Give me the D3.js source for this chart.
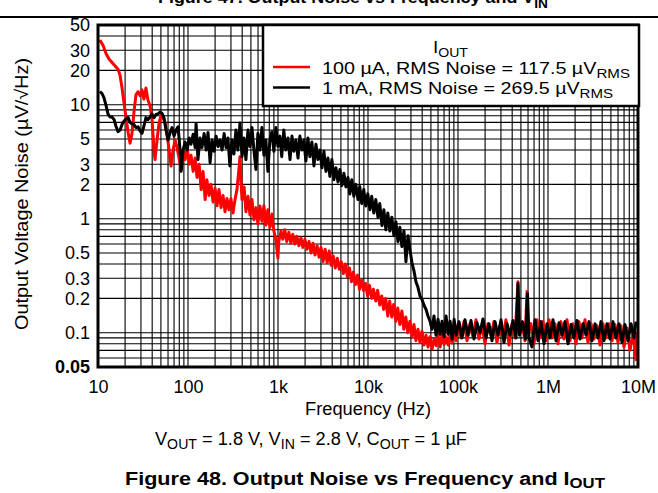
<!DOCTYPE html>
<html><head><meta charset="utf-8">
<script src="https://cdn.jsdelivr.net/npm/d3@7"></script>
<style>
body{margin:0;background:#fff}
svg{display:block}
text{font-family:"Liberation Sans",Arial,Helvetica,sans-serif;fill:#000}
</style>
</head><body>
<svg id="c" width="658" height="493"></svg>
<script>
// ---------- data ----------
const xTicks = [10, 100, 1e3, 1e4, 1e5, 1e6, 1e7];
const xTickLabels = ["10", "100", "1k", "10k", "100k", "1M", "10M"];
const yTicks = [0.05, 0.1, 0.2, 0.3, 0.5, 1, 2, 3, 5, 10, 20, 30, 50];
const yTickLabels = ["0.05", "0.1", "0.2", "0.3", "0.5", "1", "2", "3", "5", "10", "20", "30", "50"];
const seriesNames = ["100 \u00B5A, RMS Noise = 117.5 \u00B5V", "1 mA, RMS Noise = 269.5 \u00B5V"];
const seriesColors = ["#ff0000", "#000000"];

// I_OUT = 100 uA : [frequency Hz, noise uV/rtHz]
const noise100uA = [
[10.5,37],[11.4,33],[12.3,28],[13.3,25],[14.3,23.5],[15.4,22],[16.7,20.5],[17.6,18],[18.5,14],[19.5,10.2],
[20.5,7.7],[21.6,5.7],[22.7,4.6],[23.8,5.5],[25.1,8.6],[26.4,12.2],[27.8,13],[29.3,12],[30.8,13.5],[32.4,11.2],
[34.1,14],[35.9,11],[37.9,9.8],[39.8,7.5],[41.9,4.0],[43,3.3],[45.3,4.9],[47.7,6.9],[50.1,8.0],[52.8,7.7],
[55.6,6.9],[58.5,5.5],[61.6,4.0],[64.8,2.9],[68.2,4.0],[71.9,4.9],[75.6,4.2],[79.6,3.4],[83.8,2.7],[88.2,4.0],
[92.9,3.3],[97.8,4.2],[103,3.0],[108,3.6],[114,2.6],[120,3.4],[126,2.3],[133,3.0],[140,1.8],[147,2.6],
[155,1.47],[162,2.2],[171,1.6],[180,2.0],[190,1.4],[200,1.85],[210,1.3],[221,1.8],[233,1.25],[245,1.6],
[258,1.15],[271,1.5],[285,1.2],[300,1.5],[316,1.12],[333,1.47],[350,1.8],[368,2.7],[378,3.5],[388,2.2],
[398,1.47],[420,1.9],[440,1.15],[464,1.57],[488,1.08],[514,1.47],[540,0.98],[569,1.25],[598,0.9],[630,1.29],
[663,0.95],[697,1.3],[734,0.88],[772,1.2],[813,0.84],[856,1.1],[900,0.78],[948,0.66],[997,0.45],[1020,0.63],
[1080,0.78],[1130,0.66],[1190,0.80],[1250,0.63],[1320,0.76],[1390,0.61],[1460,0.73],[1540,0.60],[1620,0.70],[1710,0.58],
[1800,0.68],[1890,0.56],[1990,0.66],[2100,0.54],[2210,0.63],[2330,0.50],[2450,0.61],[2580,0.48],[2720,0.58],[2860,0.46],
[3010,0.56],[3170,0.42],[3340,0.54],[3520,0.41],[3710,0.52],[3900,0.39],[4110,0.47],[4330,0.37],[4560,0.45],[4800,0.36],
[5050,0.42],[5320,0.33],[5610,0.40],[5900,0.31],[6220,0.37],[6550,0.28],[6890,0.34],[7260,0.265],[7650,0.32],[8050,0.24],
[8480,0.29],[8930,0.235],[9400,0.27],[9900,0.21],[10400,0.26],[11000,0.20],[11500,0.24],[12200,0.19],[12800,0.235],[13500,0.175],
[14200,0.21],[14900,0.16],[15700,0.20],[16600,0.14],[17400,0.19],[18400,0.137],[19300,0.177],[20400,0.126],[21400,0.165],[22600,0.118],
[23800,0.155],[25000,0.107],[26300,0.137],[27700,0.10],[29200,0.126],[30800,0.092],[32400,0.118],[34100,0.085],[35900,0.107],[37800,0.082],
[39800,0.103],[41900,0.078],[44100,0.095],[46500,0.075],[48900,0.092],[51500,0.072],[54200,0.088],[57100,0.077],[60100,0.095],[63300,0.075],
[66600,0.098],[70200,0.079],[73900,0.092],[77800,0.078],[81900,0.097],[86300,0.081],[90800,0.103],[95600,0.085],
[100e3,0.118],[108e3,0.09],[116.6e3,0.125],[126e3,0.085],[136e3,0.12],[146.8e3,0.092],[158.5e3,0.13],[171e3,0.088],[184.8e3,0.115],[199.5e3,0.08],
[215e3,0.12],[232.6e3,0.095],[251e3,0.125],[271e3,0.082],[293e3,0.115],[316e3,0.09],[341e3,0.13],[369e3,0.078],[398e3,0.12],[430e3,0.09],
[464e3,0.28],[476e3,0.1],[514e3,0.12],[555e3,0.085],[585e3,0.23],[600e3,0.1],[647e3,0.12],[699e3,0.08],[755e3,0.13],[815e3,0.09],
[880e3,0.125],[950e3,0.085],[1.026e6,0.13],[1.108e6,0.09],[1.196e6,0.12],[1.29e6,0.08],[1.394e6,0.125],[1.505e6,0.088],[1.626e6,0.13],[1.755e6,0.085],
[1.896e6,0.12],[2.047e6,0.08],[2.21e6,0.125],[2.386e6,0.09],[2.577e6,0.13],[2.783e6,0.082],[3.005e6,0.12],[3.245e6,0.088],[3.504e6,0.115],[3.784e6,0.078],
[4.084e6,0.12],[4.41e6,0.09],[4.763e6,0.12],[5.143e6,0.085],[5.553e6,0.118],[5.995e6,0.082],[6.474e6,0.115],[6.99e6,0.075],[7.548e6,0.11],[8.151e6,0.07],
[8.8e6,0.1],[9.5e6,0.058],[9.75e6,0.1]
];

// I_OUT = 1 mA : [frequency Hz, noise uV/rtHz]
const noise1mA = [
[10.5,13],[11.1,12.5],[11.66,11.5],[12.3,9.8],[12.9,8.3],[13.6,7.8],[14.3,7.8],[15.1,7.4],[15.8,6.5],[16.7,5.8],
[17.6,6.0],[18.5,6.7],[19.5,7.2],[20.5,7.5],[21.6,7.7],[22.7,7.0],[23.8,6.8],[25.1,6.7],[26.4,6.3],[27.8,6.4],
[29.3,5.9],[30.8,5.6],[32.4,6.5],[34.1,7.7],[35.9,7.4],[37.9,7.8],[39.8,8.3],[41.9,7.7],[44.1,8.2],[46.4,8.3],
[48.9,8.6],[51.4,8.4],[54.1,7.7],[57,6.0],[60,4.9],[63.2,5.7],[66.5,6.3],[70,5.3],[73.7,6.0],[77.6,6.4],
[81.7,4.0],[83.8,2.6],[88.2,4.0],[92.9,4.7],[97.8,4.0],[103,5.1],[108,4.5],[114,5.5],[120,4.2],[123,6.8],
[129,3.3],[136,5.1],[143,4.2],[151,5.6],[159,4.0],[167,5.7],[176,3.1],[185,4.9],[195,3.9],[205,5.3],
[216,4.3],[227,4.9],[239,4.0],[252,5.6],[265,4.2],[278,5.1],[292,2.9],[308,4.9],[324,3.7],[341,6.0],
[358,4.0],[378,6.9],[398,3.5],[419,5.1],[440,3.3],[464,6.0],[488,4.3],[514,6.3],[540,4.0],[569,2.7],
[598,5.6],[630,4.0],[663,6.3],[697,3.6],[734,4.9],[772,2.6],[813,4.9],[856,5.8],[900,3.9],[948,6.3],
[997,4.3],[1050,5.3],[1100,3.5],[1160,6.0],[1220,4.0],[1290,5.1],[1360,3.3],[1430,5.3],[1500,3.9],[1580,4.9],
[1670,3.4],[1750,5.3],[1850,4.0],[1940,4.9],[2040,3.2],[2150,5.1],[2260,3.5],[2380,4.7],[2510,2.9],[2640,4.5],
[2780,3.3],[2920,4.0],[3080,2.8],[3240,3.9],[3410,2.6],[3590,3.4],[3770,2.35],[3970,3.3],[4180,2.2],[4400,2.8],
[4640,2.1],[4870,2.7],[5130,1.95],[5400,2.5],[5680,1.9],[5990,2.3],[6280,1.65],[6610,2.2],[6960,1.57],[7330,2.0],
[7740,1.47],[8100,1.92],[8530,1.36],[8980,1.8],[9450,1.29],[9950,1.65],[10500,1.2],[11000,1.57],[11600,1.12],[12200,1.47],
[12900,1.03],[13500,1.36],[14300,0.87],[15000,1.2],[15800,0.80],[16600,1.12],[17500,0.78],[18400,1.03],[19400,0.71],[20400,0.94],
[21500,0.63],[22600,0.84],[23800,0.57],[25100,0.78],[26400,0.42],[27800,0.71],[29200,0.54],[30800,0.41],[32400,0.35],[34100,0.28],
[35900,0.25],[37800,0.21],[39800,0.196],[41900,0.174],[44100,0.16],[46400,0.14],[48900,0.126],[51400,0.107],[54100,0.14],[57000,0.095],
[60000,0.131],[63200,0.097],[66500,0.126],[70000,0.092],[73700,0.14],[77600,0.097],[81700,0.126],[86000,0.088],[90600,0.131],[95400,0.095],
[102.6e3,0.125],[110.8e3,0.09],[119.6e3,0.13],[129.2e3,0.095],[139.4e3,0.128],[150.6e3,0.088],[162.6e3,0.122],[175.5e3,0.1],[189.6e3,0.132],[204.7e3,0.09],
[221e3,0.12],[238.6e3,0.085],[257.7e3,0.125],[278.3e3,0.095],[300.5e3,0.13],[324.4e3,0.082],[350.4e3,0.12],[378.3e3,0.095],[408.5e3,0.128],[441e3,0.09],
[464e3,0.27],[482e3,0.095],[521e3,0.125],[562e3,0.088],[592e3,0.22],[615e3,0.09],[664e3,0.075],[717e3,0.13],[774e3,0.085],[836e3,0.125],
[903e3,0.08],[975e3,0.12],[1.053e6,0.09],[1.136e6,0.13],[1.227e6,0.085],[1.325e6,0.122],[1.431e6,0.095],[1.545e6,0.125],[1.668e6,0.08],[1.801e6,0.118],
[1.945e6,0.09],[2.1e6,0.128],[2.268e6,0.088],[2.448e6,0.12],[2.644e6,0.095],[2.855e6,0.125],[3.083e6,0.085],[3.329e6,0.12],[3.594e6,0.09],[3.881e6,0.125],
[4.19e6,0.085],[4.525e6,0.12],[4.886e6,0.088],[5.275e6,0.125],[5.696e6,0.09],[6.15e6,0.12],[6.641e6,0.082],[7.171e6,0.118],[7.743e6,0.085],[8.36e6,0.12],
[9.03e6,0.09],[9.5e6,0.125]
];

// ---------- drawing ----------
const svg = d3.select("#c");
const W = 658, H = 493;
const pL = 98, pR = 638, pT = 25, pB = 367;
const x = d3.scaleLog().domain([10, 1e7]).range([pL, pR]);
const y = d3.scaleLog().domain([0.05, 50]).range([pB, pT]);
const font = '"Liberation Sans",Arial,Helvetica,sans-serif';

// cut-off previous figure title and separator rule
const t0 = svg.append("text").attr("x", 158).attr("y", 3).attr("font-size", 17).attr("font-weight", "bold")
  .attr("textLength", 390).attr("lengthAdjust", "spacingAndGlyphs");
t0.append("tspan").text("Figure 47. Output Noise vs Frequency and V");
t0.append("tspan").attr("dy", 5).attr("font-size", 13).text("IN");
svg.append("line").attr("x1", 0).attr("x2", W).attr("y1", 17).attr("y2", 17).attr("stroke", "#000").attr("stroke-width", 2);

// grid
const g = svg.append("g");
const vGrid = [];
for (let d = 10; d < 1e7; d *= 10) for (let n = 1; n <= 9; n++) vGrid.push(d * n);
vGrid.push(1e7);
const hGrid = [];
for (let d = 0.01; d < 50; d *= 10) for (let n = 1; n <= 9; n++) { const v = +(d * n).toPrecision(3); if (v >= 0.05 && v <= 50) hGrid.push(v); }
g.selectAll(".vg").data(vGrid).join("line").attr("x1", d => x(d)).attr("x2", d => x(d))
  .attr("y1", pT).attr("y2", pB).attr("stroke", "#000").attr("stroke-width", 1.1);
g.selectAll(".hg").data(hGrid).join("line").attr("y1", d => y(d)).attr("y2", d => y(d))
  .attr("x1", pL).attr("x2", pR).attr("stroke", "#000").attr("stroke-width", 1.1);

// clip
svg.append("clipPath").attr("id", "clip").append("rect").attr("x", pL).attr("y", pT).attr("width", pR - pL).attr("height", pB - pT);

const line = d3.line().x(d => x(d[0])).y(d => y(d[1])).curve(d3.curveLinear);
const dataG = svg.append("g").attr("clip-path", "url(#clip)");
dataG.append("path").datum(noise100uA).attr("d", line).attr("fill", "none").attr("stroke", seriesColors[0])
  .attr("stroke-width", 3).attr("stroke-linejoin", "round");
dataG.append("path").datum(noise1mA).attr("d", line).attr("fill", "none").attr("stroke", seriesColors[1])
  .attr("stroke-width", 3).attr("stroke-linejoin", "round");

// frame
svg.append("rect").attr("x", pL).attr("y", pT).attr("width", pR - pL).attr("height", pB - pT)
  .attr("fill", "none").attr("stroke", "#000").attr("stroke-width", 3);

// axes labels via d3 axes
const xAxis = d3.axisBottom(x).tickValues(xTicks).tickFormat((d, i) => xTickLabels[i]).tickSize(0).tickPadding(13);
const xa = svg.append("g").attr("transform", `translate(0,${pB})`).call(xAxis);
xa.select(".domain").remove();
xa.selectAll("text").attr("font-size", 18).attr("font-family", font).attr("fill", "#000");

const yAxis = d3.axisLeft(y).tickValues(yTicks).tickFormat((d, i) => yTickLabels[i]).tickSize(0).tickPadding(8);
const ya = svg.append("g").attr("transform", `translate(${pL},0)`).call(yAxis);
ya.select(".domain").remove();
ya.selectAll("text").attr("font-size", 18).attr("font-family", font).attr("fill", "#000")
  .attr("font-weight", d => d === 0.05 ? "bold" : "normal");

// axis titles
svg.append("text").attr("x", 368).attr("y", 415).attr("text-anchor", "middle").attr("font-size", 18)
  .attr("textLength", 126).attr("lengthAdjust", "spacingAndGlyphs").text("Frequency (Hz)");
svg.append("text").attr("transform", "translate(28,194) rotate(-90)").attr("text-anchor", "middle").attr("font-size", 18)
  .attr("textLength", 272).attr("lengthAdjust", "spacingAndGlyphs")
  .text("Output Voltage Noise (\u00B5V/\u221AHz)");

// conditions
const sub = svg.append("text").attr("x", 155).attr("y", 445).attr("font-size", 18)
  .attr("textLength", 312).attr("lengthAdjust", "spacingAndGlyphs");
sub.append("tspan").text("V");
sub.append("tspan").attr("dy", 4).attr("font-size", 14).text("OUT");
sub.append("tspan").attr("dy", -4).text(" = 1.8 V, V");
sub.append("tspan").attr("dy", 4).attr("font-size", 14).text("IN");
sub.append("tspan").attr("dy", -4).text(" = 2.8 V, C");
sub.append("tspan").attr("dy", 4).attr("font-size", 14).text("OUT");
sub.append("tspan").attr("dy", -4).text(" = 1 \u00B5F");

// caption
const cap = svg.append("text").attr("x", 125).attr("y", 485).attr("font-size", 18).attr("font-weight", "bold")
  .attr("textLength", 480).attr("lengthAdjust", "spacingAndGlyphs");
cap.append("tspan").text("Figure 48. Output Noise vs Frequency and I");
cap.append("tspan").attr("dy", 3).attr("font-size", 14).text("OUT");

// legend
const lg = svg.append("g");
lg.append("rect").attr("x", 263).attr("y", 25).attr("width", 376).attr("height", 81).attr("fill", "#fff")
  .attr("stroke", "#000").attr("stroke-width", 2.5);
const lt = lg.append("text").attr("x", 433).attr("y", 53).attr("font-size", 16)
  .attr("textLength", 35).attr("lengthAdjust", "spacingAndGlyphs");
lt.append("tspan").text("I");
lt.append("tspan").attr("dy", 4).attr("font-size", 12).text("OUT");
const legendWidths = [308, 291];
seriesNames.forEach((s, i) => {
  const yy = 67 + i * 20.5;
  lg.append("line").attr("x1", 273).attr("x2", 310).attr("y1", yy).attr("y2", yy).attr("stroke", seriesColors[i]).attr("stroke-width", 2.5);
  const tx = lg.append("text").attr("x", 322).attr("y", yy + 6.5).attr("font-size", 17)
    .attr("textLength", legendWidths[i]).attr("lengthAdjust", "spacingAndGlyphs");
  tx.append("tspan").text(s);
  tx.append("tspan").attr("dy", 4).attr("font-size", 13).text("RMS");
});
</script>
</body></html>
